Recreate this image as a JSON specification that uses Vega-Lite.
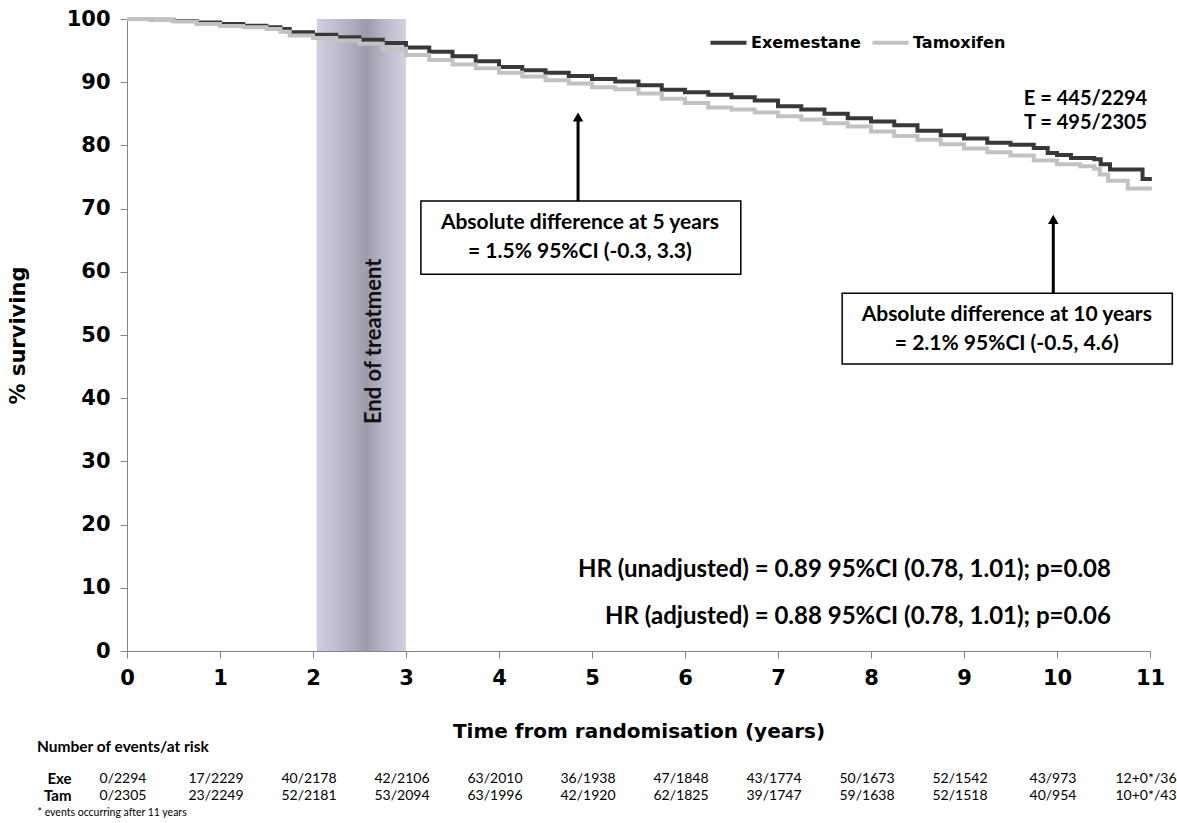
{
  "$schema": "https://vega.github.io/schema/vega-lite/v6.json",
  "background": "white",
  "padding": {"left": 7, "top": 8, "right": 2, "bottom": 2},
  "spacing": -2,
  "config": {
    "view": {"stroke": null},
    "font": "Lato",
    "axis": {"grid": false, "labelColor": "#000", "titleColor": "#000"}
  },
  "datasets": {
    "km": [
      {"arm": "Exemestane", "t": 0, "v": 100}, {"arm": "Exemestane", "t": 0.25, "v": 99.9}, {"arm": "Exemestane", "t": 0.5, "v": 99.7}, {"arm": "Exemestane", "t": 0.75, "v": 99.45}, {"arm": "Exemestane", "t": 1, "v": 99.2}, {"arm": "Exemestane", "t": 1.25, "v": 98.95}, {"arm": "Exemestane", "t": 1.5, "v": 98.7}, {"arm": "Exemestane", "t": 1.65, "v": 98.4}, {"arm": "Exemestane", "t": 1.75, "v": 97.9}, {"arm": "Exemestane", "t": 2, "v": 97.5}, {"arm": "Exemestane", "t": 2.25, "v": 97.1}, {"arm": "Exemestane", "t": 2.5, "v": 96.7}, {"arm": "Exemestane", "t": 2.75, "v": 96.2}, {"arm": "Exemestane", "t": 3, "v": 95.5}, {"arm": "Exemestane", "t": 3.25, "v": 94.8}, {"arm": "Exemestane", "t": 3.5, "v": 94.1}, {"arm": "Exemestane", "t": 3.75, "v": 93.3}, {"arm": "Exemestane", "t": 4, "v": 92.4}, {"arm": "Exemestane", "t": 4.25, "v": 91.9}, {"arm": "Exemestane", "t": 4.5, "v": 91.5}, {"arm": "Exemestane", "t": 4.75, "v": 91.0}, {"arm": "Exemestane", "t": 5, "v": 90.5}, {"arm": "Exemestane", "t": 5.25, "v": 90.1}, {"arm": "Exemestane", "t": 5.5, "v": 89.5}, {"arm": "Exemestane", "t": 5.75, "v": 88.8}, {"arm": "Exemestane", "t": 6, "v": 88.4}, {"arm": "Exemestane", "t": 6.25, "v": 88.0}, {"arm": "Exemestane", "t": 6.5, "v": 87.6}, {"arm": "Exemestane", "t": 6.75, "v": 87.1}, {"arm": "Exemestane", "t": 7, "v": 86.2}, {"arm": "Exemestane", "t": 7.25, "v": 85.7}, {"arm": "Exemestane", "t": 7.5, "v": 85.0}, {"arm": "Exemestane", "t": 7.75, "v": 84.3}, {"arm": "Exemestane", "t": 8, "v": 83.8}, {"arm": "Exemestane", "t": 8.25, "v": 83.2}, {"arm": "Exemestane", "t": 8.5, "v": 82.3}, {"arm": "Exemestane", "t": 8.75, "v": 81.6}, {"arm": "Exemestane", "t": 9, "v": 81.1}, {"arm": "Exemestane", "t": 9.25, "v": 80.4}, {"arm": "Exemestane", "t": 9.5, "v": 80.1}, {"arm": "Exemestane", "t": 9.75, "v": 79.6}, {"arm": "Exemestane", "t": 9.9, "v": 78.8}, {"arm": "Exemestane", "t": 10, "v": 78.5}, {"arm": "Exemestane", "t": 10.15, "v": 78.0}, {"arm": "Exemestane", "t": 10.4, "v": 77.8}, {"arm": "Exemestane", "t": 10.47, "v": 77.0}, {"arm": "Exemestane", "t": 10.57, "v": 76.2}, {"arm": "Exemestane", "t": 10.92, "v": 74.7}, {"arm": "Exemestane", "t": 11.02, "v": 74.7},
      {"arm": "Tamoxifen", "t": 0, "v": 100}, {"arm": "Tamoxifen", "t": 0.25, "v": 99.85}, {"arm": "Tamoxifen", "t": 0.5, "v": 99.6}, {"arm": "Tamoxifen", "t": 0.75, "v": 99.2}, {"arm": "Tamoxifen", "t": 1, "v": 98.9}, {"arm": "Tamoxifen", "t": 1.25, "v": 98.7}, {"arm": "Tamoxifen", "t": 1.5, "v": 98.4}, {"arm": "Tamoxifen", "t": 1.65, "v": 98.0}, {"arm": "Tamoxifen", "t": 1.75, "v": 97.4}, {"arm": "Tamoxifen", "t": 2, "v": 97.0}, {"arm": "Tamoxifen", "t": 2.25, "v": 96.6}, {"arm": "Tamoxifen", "t": 2.5, "v": 96.1}, {"arm": "Tamoxifen", "t": 2.75, "v": 95.3}, {"arm": "Tamoxifen", "t": 3, "v": 94.3}, {"arm": "Tamoxifen", "t": 3.25, "v": 93.5}, {"arm": "Tamoxifen", "t": 3.5, "v": 92.8}, {"arm": "Tamoxifen", "t": 3.75, "v": 92.2}, {"arm": "Tamoxifen", "t": 4, "v": 91.5}, {"arm": "Tamoxifen", "t": 4.25, "v": 90.9}, {"arm": "Tamoxifen", "t": 4.5, "v": 90.3}, {"arm": "Tamoxifen", "t": 4.75, "v": 89.8}, {"arm": "Tamoxifen", "t": 5, "v": 89.2}, {"arm": "Tamoxifen", "t": 5.25, "v": 88.9}, {"arm": "Tamoxifen", "t": 5.5, "v": 88.2}, {"arm": "Tamoxifen", "t": 5.75, "v": 87.4}, {"arm": "Tamoxifen", "t": 6, "v": 86.7}, {"arm": "Tamoxifen", "t": 6.25, "v": 86.0}, {"arm": "Tamoxifen", "t": 6.5, "v": 85.7}, {"arm": "Tamoxifen", "t": 6.75, "v": 85.2}, {"arm": "Tamoxifen", "t": 7, "v": 84.6}, {"arm": "Tamoxifen", "t": 7.25, "v": 84.1}, {"arm": "Tamoxifen", "t": 7.5, "v": 83.5}, {"arm": "Tamoxifen", "t": 7.75, "v": 83.0}, {"arm": "Tamoxifen", "t": 8, "v": 82.2}, {"arm": "Tamoxifen", "t": 8.25, "v": 81.5}, {"arm": "Tamoxifen", "t": 8.5, "v": 80.9}, {"arm": "Tamoxifen", "t": 8.75, "v": 80.2}, {"arm": "Tamoxifen", "t": 9, "v": 79.5}, {"arm": "Tamoxifen", "t": 9.25, "v": 78.9}, {"arm": "Tamoxifen", "t": 9.5, "v": 78.4}, {"arm": "Tamoxifen", "t": 9.75, "v": 77.6}, {"arm": "Tamoxifen", "t": 10, "v": 77.0}, {"arm": "Tamoxifen", "t": 10.25, "v": 76.7}, {"arm": "Tamoxifen", "t": 10.4, "v": 76.3}, {"arm": "Tamoxifen", "t": 10.46, "v": 75.4}, {"arm": "Tamoxifen", "t": 10.55, "v": 74.4}, {"arm": "Tamoxifen", "t": 10.76, "v": 73.2}, {"arm": "Tamoxifen", "t": 11.02, "v": 73.2}
    ],
    "band": [{"t": 2.04, "t2": 3.0, "v": 0, "v2": 100, "label": "End of treatment", "tl": 2.66, "vl": 49}],
    "arrows": [
      {"t": 4.85, "v": 71.2, "v2": 84.0, "vh": 84.5},
      {"t": 9.96, "v": 56.6, "v2": 67.8, "vh": 68.3}
    ],
    "boxes": [
      {"t": 3.16, "t2": 6.6, "v": 59.6, "v2": 71.2},
      {"t": 7.69, "t2": 11.24, "v": 45.4, "v2": 56.6}
    ],
    "boxtext": [
      {"t": 4.87, "v": 67.7, "label": "Absolute difference at 5 years"},
      {"t": 4.87, "v": 63.2, "label": "= 1.5% 95%CI (-0.3, 3.3)"},
      {"t": 9.46, "v": 53.1, "label": "Absolute difference at 10 years"},
      {"t": 9.46, "v": 48.5, "label": "= 2.1% 95%CI (-0.5, 4.6)"}
    ],
    "counts": [
      {"t": 10.97, "v": 87.3, "label": "E = 445/2294"},
      {"t": 10.97, "v": 83.5, "label": "T = 495/2305"}
    ],
    "hr": [
      {"t": 10.58, "v": 12.8, "label": "HR (unadjusted) = 0.89 95%CI (0.78, 1.01); p=0.08"},
      {"t": 10.58, "v": 5.4, "label": "HR (adjusted) = 0.88 95%CI (0.78, 1.01); p=0.06"}
    ],
    "table": [
      {"arm": "Exe", "year": 0, "value": "0/2294"}, {"arm": "Exe", "year": 1, "value": "17/2229"}, {"arm": "Exe", "year": 2, "value": "40/2178"}, {"arm": "Exe", "year": 3, "value": "42/2106"}, {"arm": "Exe", "year": 4, "value": "63/2010"}, {"arm": "Exe", "year": 5, "value": "36/1938"}, {"arm": "Exe", "year": 6, "value": "47/1848"}, {"arm": "Exe", "year": 7, "value": "43/1774"}, {"arm": "Exe", "year": 8, "value": "50/1673"}, {"arm": "Exe", "year": 9, "value": "52/1542"}, {"arm": "Exe", "year": 10, "value": "43/973"}, {"arm": "Exe", "year": 11, "value": "12+0*/36"},
      {"arm": "Tam", "year": 0, "value": "0/2305"}, {"arm": "Tam", "year": 1, "value": "23/2249"}, {"arm": "Tam", "year": 2, "value": "52/2181"}, {"arm": "Tam", "year": 3, "value": "53/2094"}, {"arm": "Tam", "year": 4, "value": "63/1996"}, {"arm": "Tam", "year": 5, "value": "42/1920"}, {"arm": "Tam", "year": 6, "value": "62/1825"}, {"arm": "Tam", "year": 7, "value": "39/1747"}, {"arm": "Tam", "year": 8, "value": "59/1638"}, {"arm": "Tam", "year": 9, "value": "52/1518"}, {"arm": "Tam", "year": 10, "value": "40/954"}, {"arm": "Tam", "year": 11, "value": "10+0*/43"}
    ]
  },
  "vconcat": [
    {
      "width": 1023,
      "height": 632,
      "encoding": {
        "x": {"field": "t", "type": "quantitative", "scale": {"domain": [0, 11], "nice": false, "zero": false},
          "axis": {"title": "Time from randomisation (years)", "values": [0,1,2,3,4,5,6,7,8,9,10,11], "format": "d",
            "domainColor": "#858585", "tickColor": "#858585", "tickSize": 7, "labelPadding": 9, "labelFlush": false,
            "labelFont": "DejaVu Sans", "labelFontWeight": "bold", "labelFontSize": 21,
            "titleFont": "DejaVu Sans", "titleFontWeight": "bold", "titleFontSize": 20, "titlePadding": 33}},
        "y": {"field": "v", "type": "quantitative", "scale": {"domain": [0, 100], "nice": false},
          "axis": {"title": "% surviving", "values": [0,10,20,30,40,50,60,70,80,90,100],
            "domainColor": "#858585", "tickColor": "#858585", "tickSize": 7, "labelPadding": 10,
            "labelFont": "DejaVu Sans", "labelFontWeight": "bold", "labelFontSize": 21,
            "titleFont": "DejaVu Sans", "titleFontWeight": "bold", "titleFontSize": 21, "titlePadding": 38}}
      },
      "layer": [
        {
          "data": {"name": "band"},
          "mark": {"type": "rect", "color": {"gradient": "linear", "x1": 0, "x2": 1, "y1": 0, "y2": 0,
            "stops": [{"offset": 0, "color": "#d0d0e2"}, {"offset": 0.3, "color": "#b6b6c8"}, {"offset": 0.56, "color": "#9c9cab"}, {"offset": 0.8, "color": "#bdbdce"}, {"offset": 1, "color": "#d2d2e4"}]}},
          "encoding": {"x2": {"field": "t2"}, "y2": {"field": "v2"}}
        },
        {
          "data": {"name": "band"},
          "mark": {"type": "text", "angle": 270, "font": "Lato", "fontWeight": "bold", "fontSize": 22, "color": "#111"},
          "encoding": {"x": {"field": "tl", "type": "quantitative"}, "y": {"field": "vl", "type": "quantitative"}, "text": {"field": "label"}}
        },
        {
          "data": {"name": "km"},
          "mark": {"type": "line", "interpolate": "step-after", "strokeWidth": 4},
          "encoding": {
            "color": {"field": "arm", "type": "nominal",
              "scale": {"domain": ["Exemestane", "Tamoxifen"], "range": ["#383838", "#c2c2c2"]},
              "legend": {"title": null, "orient": "none", "legendX": 581, "legendY": 3, "direction": "horizontal",
                "symbolType": "stroke", "symbolStrokeWidth": 4, "symbolSize": 1300, "labelOffset": 2, "columnPadding": 3,
                "labelFont": "DejaVu Sans", "labelFontWeight": "bold", "labelFontSize": 16, "labelColor": "#000", "labelLimit": 300}}
          }
        },
        {
          "data": {"name": "arrows"},
          "mark": {"type": "rule", "strokeWidth": 3, "color": "#000"},
          "encoding": {"y2": {"field": "v2"}}
        },
        {
          "data": {"name": "arrows"},
          "mark": {"type": "point", "shape": "triangle-up", "filled": true, "size": 110, "color": "#000", "opacity": 1},
          "encoding": {"y": {"field": "vh", "type": "quantitative"}}
        },
        {
          "data": {"name": "boxes"},
          "mark": {"type": "rect", "fill": "white", "stroke": "#000", "strokeWidth": 1.5},
          "encoding": {"x2": {"field": "t2"}, "y2": {"field": "v2"}}
        },
        {
          "data": {"name": "boxtext"},
          "mark": {"type": "text", "font": "Lato", "fontWeight": "bold", "fontSize": 21, "color": "#000", "align": "center", "baseline": "middle"},
          "encoding": {"text": {"field": "label"}}
        },
        {
          "data": {"name": "counts"},
          "mark": {"type": "text", "font": "Lato", "fontWeight": "bold", "fontSize": 20, "color": "#000", "align": "right", "baseline": "middle"},
          "encoding": {"text": {"field": "label"}}
        },
        {
          "data": {"name": "hr"},
          "mark": {"type": "text", "font": "Lato", "fontWeight": "bold", "fontSize": 24, "color": "#000", "align": "right", "baseline": "middle"},
          "encoding": {"text": {"field": "label"}}
        }
      ]
    },
    {
      "width": 1023,
      "height": 34,
      "data": {"name": "table"},
      "title": {"text": "Number of events/at risk", "anchor": "start", "frame": "bounds", "font": "Lato", "fontSize": 15.5, "fontWeight": "bold", "color": "#000", "offset": 15},
      "mark": {"type": "text", "font": "Lato", "fontSize": 14, "color": "#000", "dx": -4},
      "encoding": {
        "x": {"field": "year", "type": "quantitative", "scale": {"domain": [0, 11], "nice": false},
          "axis": {"domain": false, "ticks": false, "labels": false, "title": "* events occurring after 11 years",
            "titleFont": "Lato", "titleFontSize": 10.5, "titleFontWeight": "normal", "titleAlign": "left", "titleAnchor": "start", "titleX": -90, "titlePadding": 3}},
        "y": {"field": "arm", "type": "nominal", "sort": ["Exe", "Tam"],
          "axis": {"title": null, "domain": false, "ticks": false, "labelFont": "Lato", "labelFontWeight": "bold", "labelFontSize": 15, "labelPadding": 56}},
        "text": {"field": "value"}
      }
    }
  ]
}
